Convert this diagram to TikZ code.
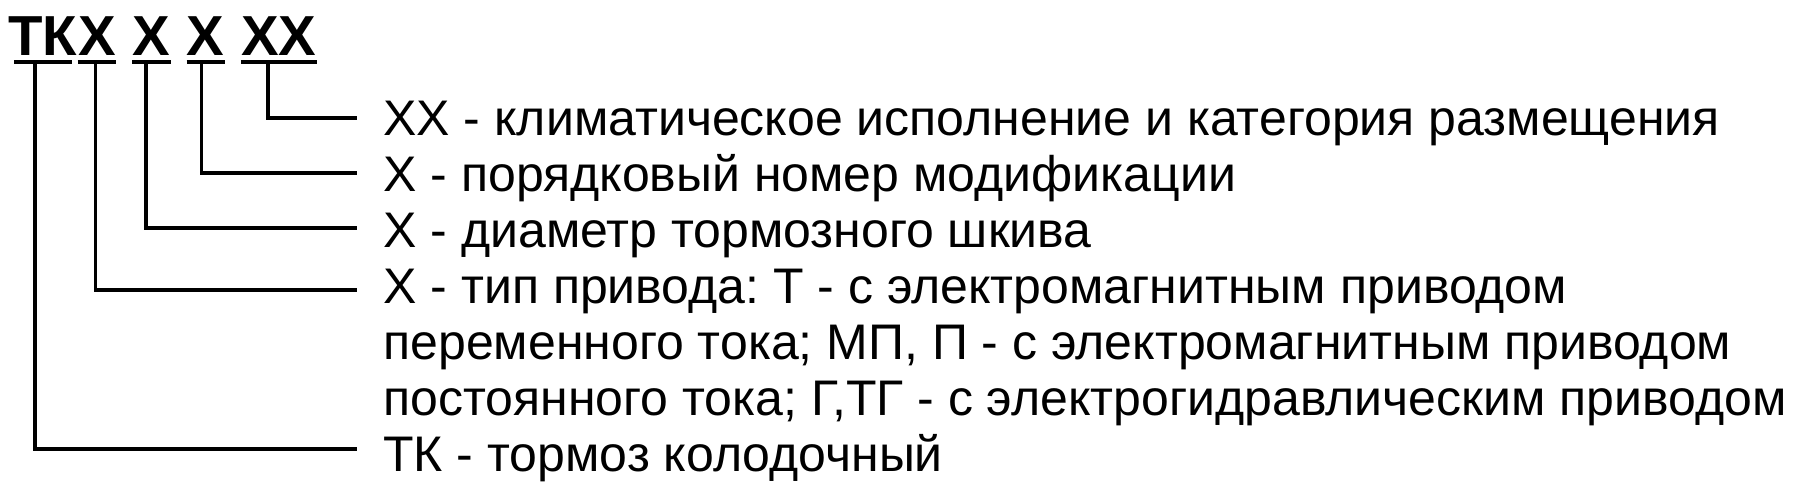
\documentclass[tikz,border=0pt]{standalone}
\usepackage{fontspec}
\setmainfont{Liberation Sans}
\usetikzlibrary{positioning}
\frenchspacing

\begin{document}
\begin{tikzpicture}[x=0.5pt,y=-0.5pt,
    title/.style={inner sep=0pt,font=\fontsize{28.2pt}{30pt}\selectfont\bfseries},
    desc/.style={inner sep=0pt,anchor=base west,font=\fontsize{25pt}{26pt}\selectfont},
    uline/.style={line width=2pt},
    lead/.style={line width=1.7pt}]
\useasboundingbox (0,0) rectangle (1818,500);

% designation
\node [title,anchor=base west] (tk) at (8,55) {ТК};
\node [title,right=0pt of tk] (xa) {Х};
\node [title,right=8pt of xa] (xb) {Х};
\node [title,right=8pt of xb] (xc) {Х};
\node [title,right=8pt of xc] (xx) {ХХ};

\draw [uline] ([xshift=3pt,yshift=-3.5pt]tk.base west) -- ([xshift=-3pt,yshift=-3.5pt]tk.base east);
\foreach \n in {xa,xb,xc,xx}
    \draw [uline] ([yshift=-3.5pt]\n.base west) -- ([yshift=-3.5pt]\n.base east);

% explanations
\node [desc] (d1) at (383,135) {ХХ - климатическое исполнение и категория размещения};
\node [desc] (d2) at ([yshift=-28pt]d1.base west) {Х - порядковый номер модификации};
\node [desc] (d3) at ([yshift=-28pt]d2.base west) {Х - диаметр тормозного шкива};
\node [desc] (d4) at ([yshift=-28pt]d3.base west) {Х - тип привода: Т - с электромагнитным приводом};
\node [desc] (d5) at ([yshift=-28pt]d4.base west) {переменного тока; МП, П - с электромагнитным приводом};
\node [desc] (d6) at ([yshift=-28pt]d5.base west) {постоянного тока; Г,ТГ - с электрогидравлическим приводом};
\node [desc] (d7) at ([yshift=-28pt]d6.base west) {ТК - тормоз колодочный};

% leaders
\draw [lead] ([xshift=13.5pt,yshift=-3.5pt]xx.base west) |- ([shift={(-13pt,8.5pt)}]d1.base west);
\draw [lead] ([xshift=7.5pt,yshift=-3.5pt]xc.base west) |- ([shift={(-13pt,9pt)}]d2.base west);
\draw [lead] ([xshift=7pt,yshift=-3.5pt]xb.base west) |- ([shift={(-13pt,9.5pt)}]d3.base west);
\draw [lead] ([xshift=9pt,yshift=-3.5pt]xa.base west) |- ([shift={(-13pt,6.5pt)}]d4.base west);
\draw [lead] ([xshift=13.5pt,yshift=-3.5pt]tk.base west) |- ([shift={(-13pt,11pt)}]d7.base west);
\end{tikzpicture}
\end{document}
